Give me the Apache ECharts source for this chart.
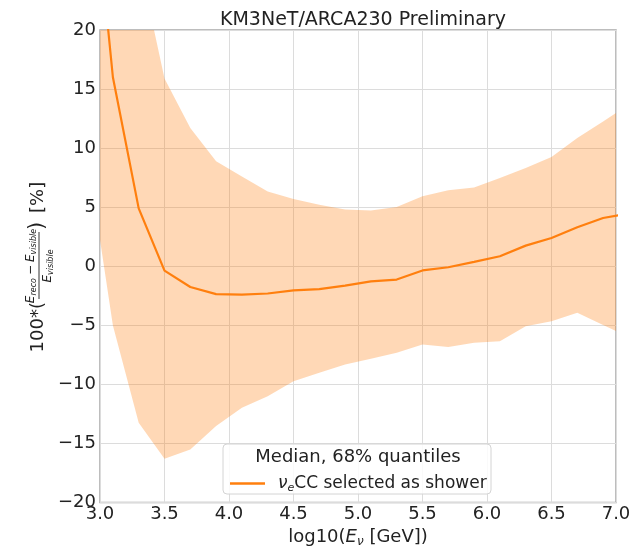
<!DOCTYPE html>
<html>
<head>
<meta charset="utf-8">
<script src="https://cdn.jsdelivr.net/npm/echarts@6/dist/echarts.min.js"></script>
<style>
html,body{margin:0;padding:0;background:#fff;}
#chart{width:634px;height:553px;}
</style>
</head>
<body>
<div id="chart"></div>
<script>
// log10(E_nu) bin centres
const energies = [2.9, 3.1, 3.3, 3.5, 3.7, 3.9, 4.1, 4.3, 4.5, 4.7, 4.9, 5.1, 5.3, 5.5, 5.7, 5.9, 6.1, 6.3, 6.5, 6.7, 6.9, 7.1];
// median of 100*(Ereco-Evis)/Evis
const median = [38, 16.0, 4.9, -0.36, -1.75, -2.35, -2.4, -2.3, -2.03, -1.93, -1.63, -1.27, -1.12, -0.35, -0.08, 0.38, 0.85, 1.75, 2.4, 3.3, 4.09, 4.47];
// 68% quantile band
const upper = [60, 45, 26, 15.9, 11.7, 8.9, 7.6, 6.34, 5.7, 5.2, 4.8, 4.73, 5.02, 5.92, 6.43, 6.68, 7.47, 8.32, 9.25, 10.85, 12.26, 13.68];
const lower = [9.5, -5.0, -13.24, -16.28, -15.5, -13.52, -11.97, -10.99, -9.72, -9.0, -8.31, -7.83, -7.32, -6.62, -6.82, -6.48, -6.34, -5.07, -4.65, -3.94, -4.97, -6.0];
const xTickStep = 0.5;
const yTickStep = 5;

const FONT = 'DejaVu Sans';
const bandData = energies.map((x, i) => [x, lower[i], upper[i]]);
const medianPairs = energies.map((x, i) => [x, median[i]]);
const seriesName = 'νeCC selected as shower';
const BAND = 'rgba(255,127,14,0.3)';
const LINE = '#ff7f0e';

const chart = echarts.init(document.getElementById('chart'), null, {renderer: 'canvas'});
chart.setOption({
  animation: false,
  backgroundColor: '#fff',
  title: {
    text: 'KM3NeT/ARCA230 Preliminary',
    left: 358, top: 6, textAlign: 'center',
    textStyle: {fontFamily: FONT, fontSize: 19, fontWeight: 'normal', color: '#222'}
  },
  grid: {left: 100, right: 18, top: 30, bottom: 50, show: true, borderColor: '#a8a8a8', borderWidth: 1.5, backgroundColor: 'transparent'},
  xAxis: {
    type: 'value', min: 3, max: 7, interval: xTickStep,
    axisLine: {show: false}, axisTick: {show: false},
    splitLine: {show: true, lineStyle: {color: '#dcdcdc', width: 1}},
    axisLabel: {fontFamily: FONT, fontSize: 18, color: '#222', margin: 3,
      formatter: v => v.toFixed(1)},
    name: '{n|log10(}{e|E}{s|ν}{n| [GeV])}',
    nameLocation: 'middle', nameGap: 21,
    nameTextStyle: {
      fontFamily: FONT, fontSize: 18, color: '#222',
      rich: {
        n: {fontFamily: FONT, fontSize: 18, color: '#222'},
        e: {fontFamily: FONT, fontSize: 18, fontStyle: 'italic', color: '#222'},
        s: {fontFamily: FONT, fontSize: 12, fontStyle: 'italic', color: '#222', padding: [9, 0, 0, 0]}
      }
    }
  },
  yAxis: {
    type: 'value', min: -20, max: 20, interval: yTickStep,
    axisLine: {show: false}, axisTick: {show: false},
    splitLine: {show: true, lineStyle: {color: '#dcdcdc', width: 1}},
    axisLabel: {fontFamily: FONT, fontSize: 18, color: '#222', margin: 4,
      formatter: v => String(v).replace('-', '\u2212')}
  },
  legend: {
    data: [seriesName],
    left: 225, top: 470, z: 10,
    icon: 'rect', itemWidth: 35, itemHeight: 2.5, itemGap: 5,
    formatter: () => '{e|ν}{s|e}{n|CC selected as shower}',
    textStyle: {
      fontFamily: FONT, fontSize: 17, color: '#222',
      rich: {
        n: {fontFamily: FONT, fontSize: 17, color: '#222'},
        e: {fontFamily: FONT, fontSize: 17, fontStyle: 'italic', color: '#222', padding: [0, 0, 0, 8]},
        s: {fontFamily: FONT, fontSize: 11, fontStyle: 'italic', color: '#222', padding: [9, 0, 0, 0]}
      }
    }
  },
  graphic: [
    {
      type: 'rect', z: 5, silent: true,
      shape: {x: 223, y: 444, width: 268, height: 50, r: 4},
      style: {fill: 'rgba(255,255,255,0.85)', stroke: '#d4d4d4', lineWidth: 1}
    },
    {
      type: 'text', z: 11, silent: true,
      style: {text: 'Median, 68% quantiles', x: 358, y: 457, textAlign: 'center', textVerticalAlign: 'middle',
        align: 'center', verticalAlign: 'middle',
        font: '18px "DejaVu Sans"', fill: '#222'}
    },
    {
      type: 'group', x: 38, y: 266, rotation: Math.PI / 2, silent: true,
      children: [
        {type: 'text', style: {text: '100*(', x: -36, y: 0, textAlign: 'right', align: 'right', textVerticalAlign: 'middle', verticalAlign: 'middle', font: '18px "DejaVu Sans"', fill: '#222'}},
        {type: 'line', shape: {x1: -33, y1: 1, x2: 34, y2: 1}, style: {stroke: '#333', lineWidth: 1}},
        {type: 'text', style: {
          text: '{e|E}{s|reco}{m|−}{e|E}{s|visible}', x: 0, y: -7,
          textAlign: 'center', align: 'center', textVerticalAlign: 'middle', verticalAlign: 'middle',
          font: '12px "DejaVu Sans"', fill: '#222',
          rich: {
            e: {fontFamily: FONT, fontSize: 12, fontStyle: 'italic', fill: '#222', color: '#222'},
            m: {fontFamily: FONT, fontSize: 12, fill: '#222', color: '#222', padding: [0, 3, 0, 3]},
            s: {fontFamily: FONT, fontSize: 8, fontStyle: 'italic', fill: '#222', color: '#222', padding: [6, 0, 0, 0]}
          }
        }},
        {type: 'text', style: {
          text: '{e|E}{s|visible}', x: 0, y: 10,
          textAlign: 'center', align: 'center', textVerticalAlign: 'middle', verticalAlign: 'middle',
          font: '12px "DejaVu Sans"', fill: '#222',
          rich: {
            e: {fontFamily: FONT, fontSize: 12, fontStyle: 'italic', fill: '#222', color: '#222'},
            s: {fontFamily: FONT, fontSize: 8, fontStyle: 'italic', fill: '#222', color: '#222', padding: [6, 0, 0, 0]}
          }
        }},
        {type: 'text', style: {text: ')', x: 36, y: 0, textAlign: 'left', align: 'left', textVerticalAlign: 'middle', verticalAlign: 'middle', font: '21px "DejaVu Sans"', fill: '#222'}},
        {type: 'text', style: {text: '[%]', x: 53, y: 0, textAlign: 'left', align: 'left', textVerticalAlign: 'middle', verticalAlign: 'middle', font: '18px "DejaVu Sans"', fill: '#222'}}
      ]
    }
  ],
  series: [
    {
      type: 'custom', name: 'band', data: bandData, silent: true, z: 1,
      encode: {x: 0, y: [1, 2]},
      renderItem: (params, api) => {
        if (params.dataIndex !== 0) return null;
        const pts = [];
        for (let i = 0; i < bandData.length; i++) pts.push(api.coord([bandData[i][0], bandData[i][2]]));
        for (let i = bandData.length - 1; i >= 0; i--) pts.push(api.coord([bandData[i][0], bandData[i][1]]));
        const cs = params.coordSys;
        return {
          type: 'polygon', shape: {points: pts}, style: {fill: BAND},
          clipPath: {type: 'rect', shape: {x: cs.x, y: cs.y, width: cs.width, height: cs.height}}
        };
      }
    },
    {
      type: 'line', name: seriesName, data: medianPairs, symbol: 'none', showSymbol: false,
      lineStyle: {color: LINE, width: 2.2}, itemStyle: {color: LINE}, z: 3
    }
  ]
});
</script>
</body>
</html>
